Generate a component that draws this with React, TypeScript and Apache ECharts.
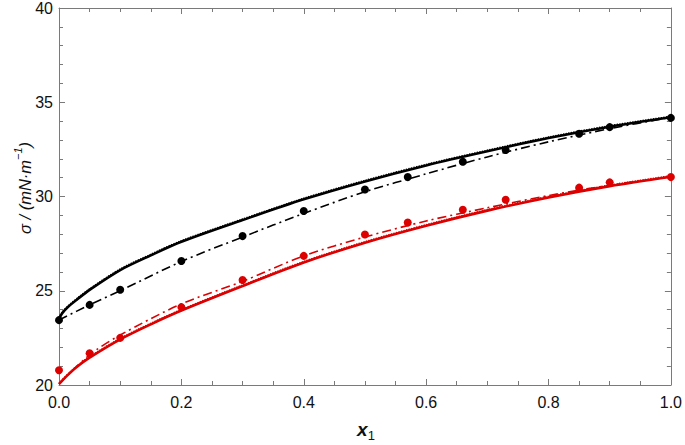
import React, { useEffect, useRef } from "react";
import * as echarts from "echarts";

// curve abscissae
const curveX = [0, 0.005, 0.015, 0.03, 0.05, 0.1, 0.15, 0.2, 0.3, 0.4, 0.5, 0.6, 0.7, 0.8, 0.9, 1.0];
const blackSolid = [23.5, 23.8, 24.15, 24.55, 25.05, 26.1, 26.88, 27.6, 28.75, 29.85, 30.8, 31.65, 32.4, 33.1, 33.7, 34.2];
const redSolid = [20.05, 20.22, 20.55, 20.98, 21.45, 22.42, 23.22, 23.95, 25.25, 26.5, 27.55, 28.45, 29.25, 29.95, 30.55, 31.05];

const dashX = [0, 0.05, 0.1, 0.2, 0.3, 0.4, 0.5, 0.6, 0.7, 0.8, 0.9, 1.0];
const blackDashDot = [23.45, 24.25, 25.0, 26.55, 27.85, 29.1, 30.25, 31.2, 32.1, 32.9, 33.6, 34.2];
const redDashDot = [20.05, 21.6, 22.65, 24.3, 25.5, 26.85, 27.85, 28.7, 29.4, 30.05, 30.6, 31.05];

// experimental points
const pointX = [0, 0.05, 0.1, 0.2, 0.3, 0.4, 0.5, 0.57, 0.66, 0.73, 0.85, 0.9, 1.0];
const blackPoints = [23.44, 24.25, 25.05, 26.58, 27.9, 29.23, 30.37, 31.03, 31.84, 32.47, 33.33, 33.68, 34.17];
const redPoints = [20.78, 21.68, 22.5, 24.13, 25.57, 26.85, 27.98, 28.62, 29.3, 29.83, 30.47, 30.75, 31.03];

const xTicks = [0, 0.2, 0.4, 0.6, 0.8, 1.0];
const yTicks = [20, 25, 30, 35, 40];

const BLACK = "#000000";
const RED = "#dc0000";
const FRAME = "#7a7a7a";
const FONT = "'Liberation Sans', Arial, sans-serif";

const pairs = (xs: number[], ys: number[]) => xs.map((x, i) => [x, ys[i]]);

export default function App() {
  const ref = useRef<HTMLDivElement>(null);
  useEffect(() => {
    if (!ref.current) return;
    const chart = echarts.init(ref.current, undefined, { renderer: "svg" });
    const xBase = {
      type: "value" as const,
      min: xTicks[0],
      max: xTicks[xTicks.length - 1],
      interval: 0.2,
      axisLine: { show: true, onZero: false, lineStyle: { color: FRAME, width: 1 } },
      axisTick: { show: true, inside: true, length: 6, lineStyle: { color: FRAME } },
      minorTick: { show: true, splitNumber: 4, length: 4, lineStyle: { color: FRAME } },
      splitLine: { show: false },
    };
    const yBase = {
      type: "value" as const,
      min: yTicks[0],
      max: yTicks[yTicks.length - 1],
      interval: 5,
      axisLine: { show: true, onZero: false, lineStyle: { color: FRAME, width: 1 } },
      axisTick: { show: true, inside: true, length: 6, lineStyle: { color: FRAME } },
      minorTick: { show: true, splitNumber: 5, length: 4, lineStyle: { color: FRAME } },
      splitLine: { show: false },
    };
    const dashDot = [9, 4, 2, 4];
    chart.setOption({
      animation: false,
      backgroundColor: "#ffffff",
      grid: { left: 59, top: 7, right: 14, bottom: 60 },
      xAxis: [
        {
          ...xBase,
          position: "bottom",
          axisLabel: {
            color: "#111",
            fontSize: 16,
            fontFamily: FONT,
            margin: 9,
            formatter: (v: number) => v.toFixed(1),
          },
        },
        { ...xBase, position: "top", axisLabel: { show: false } },
      ],
      yAxis: [
        {
          ...yBase,
          position: "left",
          axisLabel: { color: "#111", fontSize: 16, fontFamily: FONT, margin: 6 },
        },
        { ...yBase, position: "right", axisLabel: { show: false } },
      ],
      graphic: [
        {
          type: "text",
          x: 23,
          y: 188,
          rotation: Math.PI / 2,
          style: {
            text: "{i|σ / (mN·m}{s|−1}{i|)}",
            align: "center",
            verticalAlign: "middle",
            fill: "#111",
            rich: {
              i: { fontSize: 16.5, fontStyle: "italic", fontFamily: FONT, fill: "#111", lineHeight: 21, verticalAlign: "bottom" },
              s: { fontSize: 11, fontStyle: "italic", fontFamily: FONT, fill: "#111", lineHeight: 21, verticalAlign: "top" },
            },
          },
        },
        {
          type: "text",
          x: 366,
          y: 431,
          style: {
            text: "{x|x}{s|1}",
            align: "center",
            verticalAlign: "middle",
            rich: {
              x: { fontSize: 19, fontStyle: "italic", fontWeight: "bold", fontFamily: FONT, fill: "#111", lineHeight: 22, verticalAlign: "top" },
              s: { fontSize: 13, fontFamily: FONT, fill: "#111", lineHeight: 22, verticalAlign: "bottom" },
            },
          },
        },
      ],
      series: [
        {
          type: "line",
          data: pairs(curveX, redSolid),
          smooth: 0.3,
          showSymbol: false,
          lineStyle: { color: RED, width: 2.6 },
          z: 2,
        },
        {
          type: "line",
          data: pairs(curveX, redSolid.map((v) => v + 0.06)),
          smooth: 0.3,
          showSymbol: false,
          lineStyle: { color: RED, width: 1.3, type: "dotted" },
          z: 3,
        },
        {
          type: "line",
          data: pairs(dashX, redDashDot),
          smooth: 0.3,
          showSymbol: false,
          lineStyle: { color: RED, width: 1.6, type: dashDot },
          z: 2,
        },
        {
          type: "line",
          data: pairs(curveX, blackSolid),
          smooth: 0.3,
          showSymbol: false,
          lineStyle: { color: BLACK, width: 2.6 },
          z: 2,
        },
        {
          type: "line",
          data: pairs(curveX, blackSolid.map((v) => v + 0.06)),
          smooth: 0.3,
          showSymbol: false,
          lineStyle: { color: BLACK, width: 1.3, type: "dotted" },
          z: 3,
        },
        {
          type: "line",
          data: pairs(dashX, blackDashDot),
          smooth: 0.3,
          showSymbol: false,
          lineStyle: { color: BLACK, width: 1.6, type: dashDot },
          z: 2,
        },
        {
          type: "scatter",
          data: pairs(pointX, blackPoints),
          symbol: "circle",
          symbolSize: 8,
          itemStyle: { color: BLACK, opacity: 1 },
          z: 4,
        },
        {
          type: "scatter",
          data: pairs(pointX, redPoints),
          symbol: "circle",
          symbolSize: 8,
          itemStyle: { color: RED, opacity: 1 },
          z: 4,
        },
      ],
    });
    return () => chart.dispose();
  }, []);
  return <div ref={ref} style={{ width: 685, height: 445, position: "absolute", left: 0, top: 0 }} />;
}
